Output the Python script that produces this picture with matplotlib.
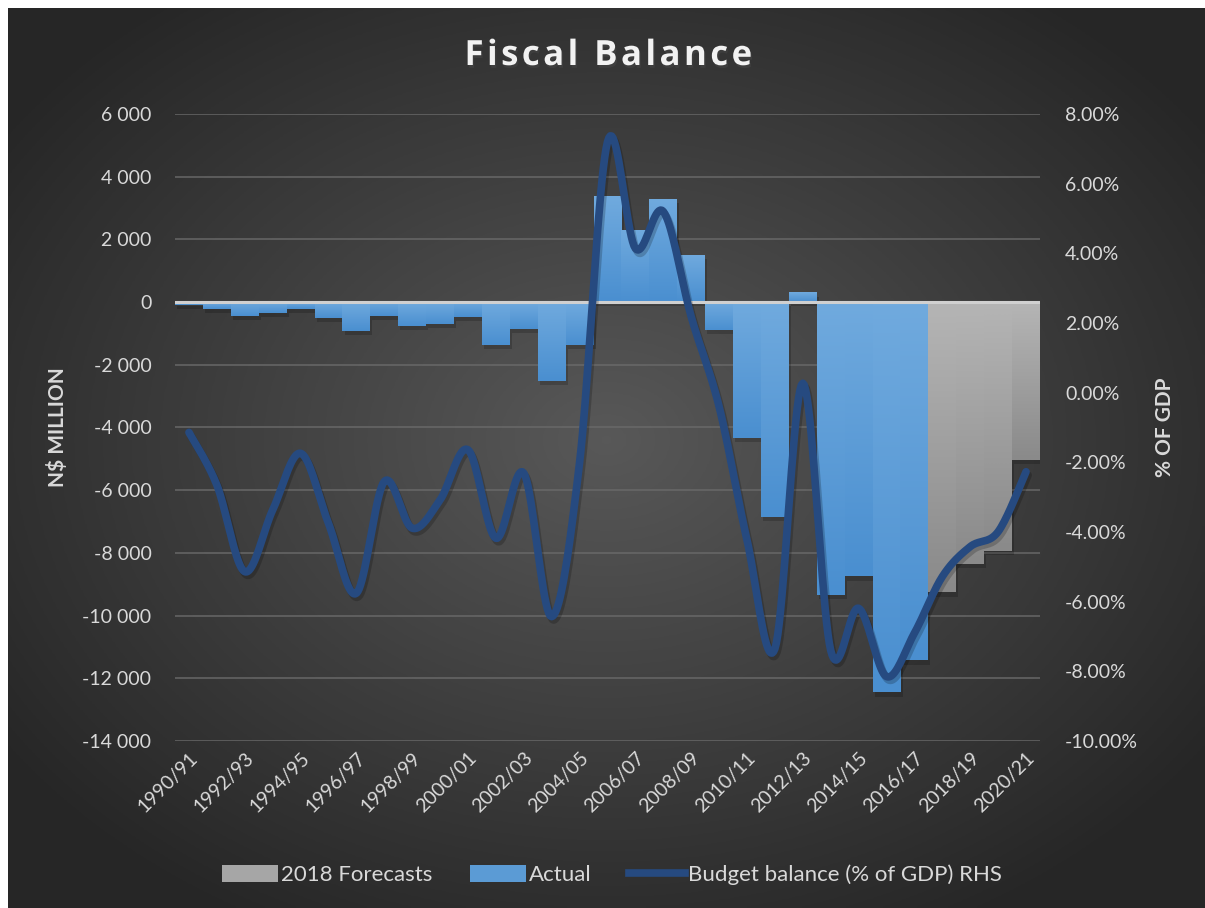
import numpy as np
import matplotlib
matplotlib.use('Agg')
import matplotlib.pyplot as plt
import matplotlib.patheffects as pe
from matplotlib.colors import LinearSegmentedColormap
from matplotlib.patches import Patch
from matplotlib.lines import Line2D
from matplotlib.ticker import FuncFormatter

plt.rcParams['font.family'] = ['Lato', 'DejaVu Sans']

# fiscal years 1990/91 .. 2020/21
years = [f"{y}/{str(y + 1)[-2:]}" for y in range(1990, 2021)]

# N$ million, actual 1990/91 - 2016/17
actual = [-100, -220, -450, -350, -220, -510, -920, -450, -760, -700,
          -480, -1370, -860, -2520, -1370, 3380, 2300, 3300, 1500, -890,
          -4330, -6840, 310, -9350, -8750, -12450, -11430]
# N$ million, 2018 forecasts 2017/18 - 2020/21
forecast = [-9260, -8350, -7950, -5030]

# budget balance, % of GDP (RHS)
balance_pct = [-1.14, -2.65, -5.14, -3.37, -1.74, -3.75, -5.76, -2.55, -3.89, -3.08,
               -1.64, -4.18, -2.31, -6.43, -2.0, 7.2, 4.14, 5.2, 2.18, -0.4,
               -4.23, -7.35, 0.27, -7.4, -6.19, -8.15, -6.9, -5.28, -4.42, -3.99,
               -2.27]

TXT = '#d9d9d9'
BLUE_LINE = '#264a80'


def smooth(xs, ys, n=20):
    # catmull-rom curve through the points, like excel's smoothed line
    p = np.column_stack([xs, ys]).astype(float)
    p = np.vstack([p[0], p, p[-1]])
    out = []
    t = np.linspace(0, 1, n, endpoint=False)[:, None]
    for i in range(1, len(p) - 2):
        p0, p1, p2, p3 = p[i - 1], p[i], p[i + 1], p[i + 2]
        seg = 0.5 * ((2 * p1) + (-p0 + p2) * t + (2 * p0 - 5 * p1 + 4 * p2 - p3) * t ** 2
                     + (-p0 + 3 * p1 - 3 * p2 + p3) * t ** 3)
        out.append(seg)
    out.append(p[-2][None, :])
    out = np.vstack(out)
    return out[:, 0], out[:, 1]


def grad_fill(ax, bars, c_top, c_bot):
    cmap = LinearSegmentedColormap.from_list('g', [c_bot, c_top])
    grad = np.linspace(0, 1, 64).reshape(-1, 1)
    for b in bars:
        x0, y0 = b.get_x(), b.get_y()
        w, h = b.get_width(), b.get_height()
        im = ax.imshow(grad, cmap=cmap, origin='lower', aspect='auto',
                       extent=[x0, x0 + w, min(y0, y0 + h), max(y0, y0 + h)],
                       zorder=2, interpolation='bilinear')
        im.set_clip_path(b)


fig = plt.figure(figsize=(12.05, 9.08), dpi=100, facecolor='white')

# dark radial background
bg = fig.add_axes([8 / 1205, 0, 1 - 8 / 1205, 1 - 8 / 908], zorder=-10)
gx, gy = np.meshgrid(np.linspace(0, 1, 300), np.linspace(0, 1, 300))
r = np.sqrt(((gx - 0.5) / 0.62) ** 2 + ((gy - 0.52) / 0.62) ** 2)
r = np.clip(r, 0, 1)
bg_cmap = LinearSegmentedColormap.from_list('bg', ['#585858', '#262626'])
bg.imshow(r, cmap=bg_cmap, extent=[0, 1, 0, 1], aspect='auto', origin='lower')
bg.set_axis_off()

ax = fig.add_axes([175 / 1205, 1 - 741 / 908, 865 / 1205, 627 / 908])
ax.set_facecolor('none')
x = np.arange(len(years))
n_act = len(actual)

shadow = [pe.SimplePatchShadow(offset=(1.5, -3), shadow_rgbFace='black', alpha=0.18), pe.Normal()]
b_act = ax.bar(x[:n_act], actual, width=1.0, color='#5b9bd5', zorder=2, path_effects=shadow)
b_fc = ax.bar(x[n_act:], forecast, width=1.0, color='#a6a6a6', zorder=2, path_effects=shadow)
grad_fill(ax, b_act, '#70aade', '#4a8fd0')
grad_fill(ax, b_fc, '#b5b5b5', '#8a8a8a')

ax.axhline(0, color='#d0d0d0', lw=2.2, zorder=3)
ax.set_xlim(-0.5, len(years) - 0.5)
ax.set_ylim(-14000, 6000)
ax.set_yticks(np.arange(-14000, 6001, 2000))
ax.yaxis.set_major_formatter(FuncFormatter(lambda v, _: f"{v:,.0f}".replace(',', ' ')))
ax.grid(axis='y', color='#6a6a6a', lw=1.3, alpha=0.8, zorder=0)
ax.set_axisbelow(True)
ax.set_xticks(x[::2])
ax.set_xticklabels(years[::2], rotation=45, ha='right', rotation_mode='anchor')
ax.tick_params(axis='both', length=0, colors=TXT, labelsize=14)
ax.tick_params(axis='y', pad=17)
ax.tick_params(axis='x', pad=6)
for s in ax.spines.values():
    s.set_visible(False)
ax.set_ylabel('N$ MILLION', color=TXT, fontsize=15, fontweight='bold', labelpad=10)

ax2 = ax.twinx()
sx, sy = smooth(x, balance_pct)
ax2.plot(sx, sy, color=BLUE_LINE, lw=5.5, solid_capstyle='round', zorder=5,
         path_effects=[pe.SimpleLineShadow(offset=(1.5, -2.5), alpha=0.2), pe.Normal()])
ax2.set_ylim(-10, 8)
ax2.set_yticks(np.arange(-10, 8.01, 2))
ax2.yaxis.set_major_formatter(FuncFormatter(lambda v, _: f"{v:.2f}%"))
ax2.tick_params(axis='y', length=0, colors=TXT, labelsize=14, pad=18)
for s in ax2.spines.values():
    s.set_visible(False)
ax2.set_ylabel('% OF GDP', color=TXT, fontsize=15, fontweight='bold', labelpad=12)

# letter-spaced title
title = '\u200a'.join('Fiscal Balance')
fig.text(0.505, 1 - 56 / 908, title, fontsize=25, fontweight='bold',
         color='#f2f2f2', ha='center', va='center', family=['Open Sans', 'DejaVu Sans'],
         path_effects=[pe.SimplePatchShadow(offset=(1, -2), alpha=0.45), pe.Normal()])

handles = [Patch(facecolor='#a6a6a6', edgecolor='none'),
           Patch(facecolor='#5b9bd5', edgecolor='none'),
           Line2D([0], [0], color=BLUE_LINE, lw=5.5)]
labels = ['2018 Forecasts', 'Actual', 'Budget balance (% of GDP) RHS']
leg = fig.legend(handles, labels, loc='center', bbox_to_anchor=(0.508, 1 - 875 / 908),
                 ncol=3, frameon=False, fontsize=16, handlelength=2.5, handleheight=0.8,
                 handletextpad=0.15, columnspacing=1.7)
for t in leg.get_texts():
    t.set_color(TXT)

fig.savefig('out.png', dpi=100, facecolor='white')
